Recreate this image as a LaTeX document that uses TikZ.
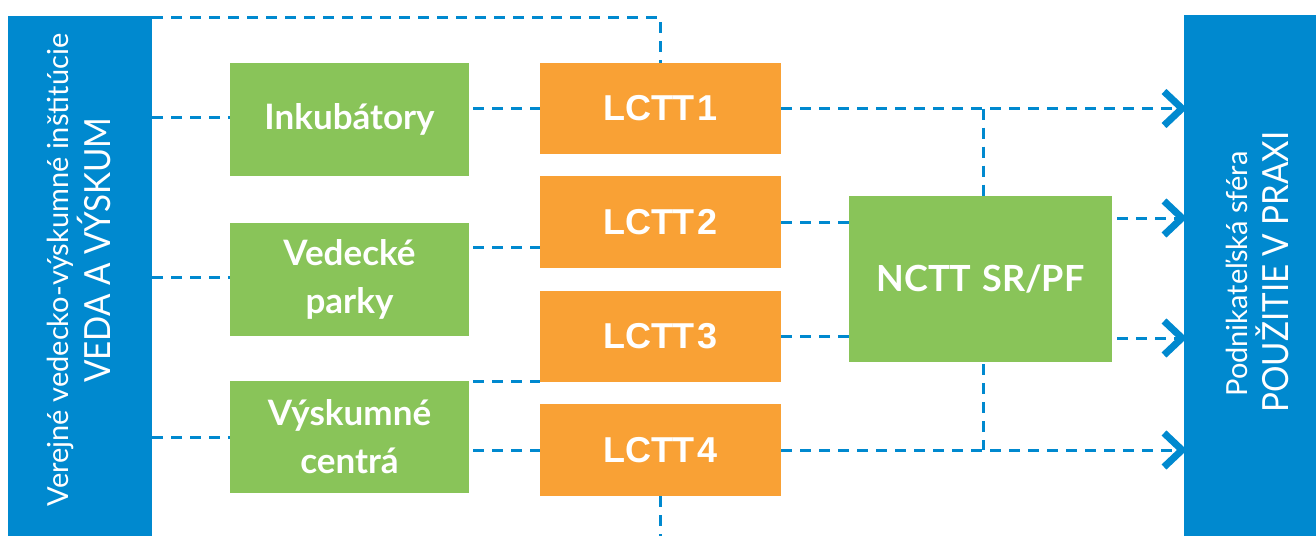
\documentclass[tikz,border=0pt]{standalone}
\usepackage{fontspec}
\setmainfont{Lato}
\newfontfamily\lctfont{Liberation Sans}
\newfontfamily\barfont[FakeStretch=0.92]{Lato}
\definecolor{vblue}{RGB}{0,137,207}
\definecolor{vgreen}{RGB}{137,196,89}
\definecolor{vorange}{RGB}{249,161,53}
\begin{document}
\begin{tikzpicture}[x=1pt,y=-1pt,
  box/.style={inner sep=0pt, outer sep=0pt, text=white},
  bar/.style={box, fill=vblue},
  gbox/.style={box, fill=vgreen, minimum width=239pt, minimum height=113pt,
    font=\fontsize{35}{48}\selectfont\bfseries, align=center},
  obox/.style={box, fill=vorange, minimum width=241pt, minimum height=91pt,
    font=\lctfont\fontsize{36}{40}\selectfont\bfseries},
  conn/.style={draw=vblue, line width=3pt, dash pattern=on 11pt off 8pt},
  chev/.style={draw=vblue, line width=7pt, miter limit=10},
  bartext/.style={text=white, inner sep=0pt, rotate=90, anchor=base}]
\useasboundingbox (0,0) rectangle (1316,536);

% bars
\node[bar, minimum width=144pt, minimum height=520pt] (L) at (80,276) {};
\node[bar, minimum width=132pt, minimum height=521pt] (R) at (1250,275.5) {};
\node[bartext, font=\fontsize{29}{30}\selectfont] (lt1) at (68,270) {Verejné vedecko-výskumné inštitúcie};
\node[bartext, font=\barfont\fontsize{36}{40}\selectfont] (lt2) at (110,250) {VEDA A VÝSKUM};
\node[bartext, font=\fontsize{29}{30}\selectfont] (rt1) at (1247,274) {Podnikateľská sféra};
\node[bartext, font=\barfont\fontsize{36}{40}\selectfont] (rt2) at (1288,272) {POUŽITIE V PRAXI};

% green boxes
\node[gbox] (inc) at (349.5,119.5) {Inkubátory};
\node[gbox] (ved) at (349.5,279.5) {Vedecké\\parky};
\node[gbox, minimum height=112pt] (vys) at (349.5,437) {Výskumné\\centrá};

% orange boxes
\node[obox] (l1) at (660.5,108.5) {LCTT\hspace{3pt}1};
\node[obox, minimum height=92pt] (l2) at (660.5,222) {LCTT\hspace{3pt}2};
\node[obox] (l3) at (660.5,336.5) {LCTT\hspace{3pt}3};
\node[obox, minimum height=92pt] (l4) at (660.5,450) {LCTT\hspace{3pt}4};

% central box
\node[box, fill=vgreen, minimum width=263pt, minimum height=166pt,
  font=\fontsize{36}{44}\selectfont\bfseries] (nc) at (980.5,279) {\raisebox{-6pt}{NCTT\hspace{11pt}SR/PF}};

% coordinates
\coordinate (a1) at (1182,108.5);
\coordinate (a2) at (1182,218);
\coordinate (a3) at (1182,338);
\coordinate (a4) at (1182,450);
\coordinate (j1) at (983,108.5);
\coordinate (j4) at (983,450);
\coordinate (bot) at (660.5,536);
\coordinate (v2) at ([yshift=32.5pt]ved.east);

% connectors from the left bar
\draw[conn] ([yshift=-1.5pt]L.north east) -| (l1.north);
\draw[conn] ([yshift=2.5pt]L.east |- inc.west) -- ([yshift=2.5pt]inc.west);
\draw[conn] ([yshift=2.5pt]L.east |- ved.west) -- ([yshift=2.5pt]ved.west);
\draw[conn] (L.east |- vys.west) -- (vys.west);

% green -> orange
\draw[conn, shorten <=4pt] (inc.east |- l1.west) -- (l1.west);
\draw[conn, shorten <=4pt] (v2) -- (v2 -| l2.west);
\draw[conn, shorten <=4pt] ([yshift=1pt]vys.east |- l3.south west) -- ([yshift=1pt]l3.south west);
\draw[conn, shorten <=4pt] (vys.east |- l4.west) -- (l4.west);
\draw[conn] (l4.south) -- (bot);

% orange -> right
\draw[conn] (l1.east) -- (a1);
\draw[conn] (l4.east) -- (a4);
\draw[conn] (l2.east) -- (l2.east -| nc.west);
\draw[conn] (l3.east) -- (l3.east -| nc.west);
\draw[conn] (j1) -- (j1 |- nc.north);
\draw[conn, shorten <=2pt] (j4 |- nc.south) -- (j4);
\draw[conn, shorten <=5pt] (nc.east |- a2) -- (a2);
\draw[conn, shorten <=5pt] (nc.east |- a3) -- (a3);

% chevrons
\foreach \a in {a1,a2,a3,a4}
  \draw[chev] (\a) ++(-18,-17) -- (\a) -- ++(-18,17);
\end{tikzpicture}
\end{document}
